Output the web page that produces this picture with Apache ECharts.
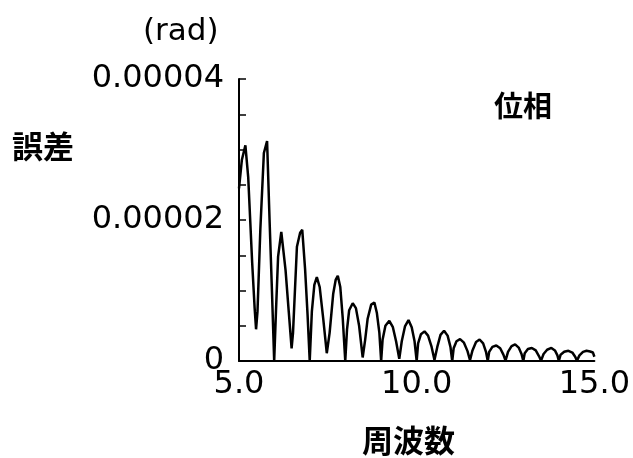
<!DOCTYPE html>
<html>
<head>
<meta charset="utf-8">
<script src="https://cdn.jsdelivr.net/npm/echarts@6/dist/echarts.min.js"></script>
<style>
html,body{margin:0;padding:0;background:#fff;}
#chart{width:633px;height:458px;}
</style>
</head>
<body>
<div id="chart"></div>
<script>
// Frequency (x) and phase error in units of 1e-6 rad (y)
const freq = [
  5.00, 5.08, 5.18, 5.26, 5.37, 5.44, 5.48,
  5.52, 5.60, 5.70, 5.79, 5.86, 5.93, 5.99,
  6.00, 6.04, 6.10, 6.19, 6.31, 6.40, 6.48,
  6.52, 6.63, 6.72, 6.78, 6.86, 6.93, 6.99,
  7.00, 7.05, 7.12, 7.19, 7.27, 7.37, 7.47,
  7.55, 7.65, 7.72, 7.78, 7.85, 7.92, 7.99,
  8.00, 8.04, 8.10, 8.20, 8.29, 8.38, 8.48,
  8.55, 8.62, 8.72, 8.81, 8.88, 8.95, 9.00,
  9.04, 9.12, 9.23, 9.33, 9.42, 9.51,
  9.58, 9.67, 9.77, 9.86, 9.94, 10.00,
  10.04, 10.12, 10.22, 10.32, 10.42, 10.50,
  10.58, 10.67, 10.77, 10.87, 10.95, 11.00,
  11.04, 11.12, 11.22, 11.33, 11.43, 11.50,
  11.57, 11.67, 11.77, 11.87, 11.95, 12.00,
  12.04, 12.13, 12.24, 12.35, 12.44, 12.50,
  12.57, 12.67, 12.77, 12.87, 12.95, 13.00,
  13.04, 13.13, 13.24, 13.35, 13.44, 13.50,
  13.57, 13.67, 13.79, 13.89, 13.96, 14.00,
  14.05, 14.15, 14.27, 14.38, 14.46, 14.51,
  14.58, 14.68, 14.78, 14.88, 14.96, 15.00
];
const errMicro = [
  24.5, 28.5, 30.6, 26.0, 14.0, 7.5, 4.5,
  7.0, 18.6, 29.5, 31.2, 20.0, 9.5, 0.0,
  0.0, 7.0, 14.8, 18.3, 12.9, 7.0, 1.8,
  4.0, 16.2, 18.2, 18.6, 13.0, 6.5, 0.0,
  0.0, 7.0, 10.8, 11.9, 10.5, 6.0, 1.1,
  4.0, 9.5, 11.5, 12.1, 10.5, 6.0, 0.0,
  0.0, 4.5, 7.2, 8.2, 7.5, 5.0, 0.5,
  3.0, 6.0, 8.0, 8.3, 6.8, 4.0, 0.0,
  3.0, 5.0, 5.7, 4.8, 2.8, 0.3,
  2.8, 4.9, 5.8, 4.8, 2.8, 0.0,
  2.5, 3.8, 4.2, 3.6, 2.0, 0.15,
  2.0, 3.7, 4.3, 3.6, 2.0, 0.0,
  1.8, 2.8, 3.1, 2.6, 1.4, 0.1,
  1.5, 2.7, 3.05, 2.5, 1.3, 0.0,
  1.3, 2.0, 2.2, 1.8, 0.9, 0.05,
  1.3, 2.1, 2.35, 1.9, 1.0, 0.0,
  1.1, 1.7, 1.85, 1.5, 0.7, 0.05,
  1.0, 1.6, 1.85, 1.5, 0.8, 0.0,
  0.9, 1.3, 1.45, 1.2, 0.6, 0.05,
  0.8, 1.3, 1.45, 1.35, 1.2, 0.6
];
const MICRO = 1e-6;
const xTickValues = [5, 10, 15];
const xTickLabels = ['5.0', '10.0', '15.0'];
const yTickValues = [0, 0.00002, 0.00004];
const yTickLabels = ['0', '0.00002', '0.00004'];

const seriesData = freq.map((f, i) => [f, errMicro[i] * MICRO]);

const chart = echarts.init(document.getElementById('chart'), null, {renderer: 'canvas'});
const numFont = 'DejaVu Sans';
const cjkFont = '"Noto Sans CJK JP"';

chart.setOption({
  animation: false,
  backgroundColor: '#ffffff',
  grid: {left: 239, right: 38, top: 79, bottom: 97, containLabel: false},
  xAxis: {
    type: 'value',
    min: 5, max: 15, interval: 5,
    axisLine: {show: true, lineStyle: {color: '#000', width: 2}},
    axisTick: {show: false},
    splitLine: {show: false},
    axisLabel: {
      show: true, showMinLabel: true, showMaxLabel: true,
      margin: 8, color: '#000', fontSize: 32, fontFamily: numFont,
      formatter: function (v) {
        const i = xTickValues.findIndex(t => Math.abs(t - v) < 1e-9);
        return i >= 0 ? xTickLabels[i] : '';
      }
    }
  },
  yAxis: {
    type: 'value',
    min: 0, max: 0.00004, interval: 0.000005,
    axisLine: {show: true, lineStyle: {color: '#000', width: 2}},
    axisTick: {show: true, inside: true, length: 7, lineStyle: {color: '#000', width: 1.5}},
    splitLine: {show: false},
    axisLabel: {
      show: true, showMinLabel: true, showMaxLabel: true,
      margin: 15, color: '#000', fontSize: 32, fontFamily: numFont,
      formatter: function (v) {
        const i = yTickValues.findIndex(t => Math.abs(t - v) < 1e-10);
        return i >= 0 ? yTickLabels[i] : '';
      }
    }
  },
  series: [{
    type: 'line',
    data: seriesData,
    showSymbol: false,
    smooth: false,
    lineStyle: {color: '#000', width: 2.5},
    clip: true
  }],
  graphic: [
    {type: 'text', left: 143, top: 16, style: {text: '(rad)', font: '31px ' + numFont, fill: '#000'}},
    {type: 'text', left: 12, top: 131, style: {text: '誤差', font: 'bold 31px ' + cjkFont, fill: '#000'}},
    {type: 'text', left: 362, top: 425, style: {text: '周波数', font: 'bold 31px ' + cjkFont, fill: '#000'}},
    {type: 'text', left: 494, top: 91, style: {text: '位相', font: 'bold 29px ' + cjkFont, fill: '#000'}}
  ]
});
</script>
</body>
</html>
